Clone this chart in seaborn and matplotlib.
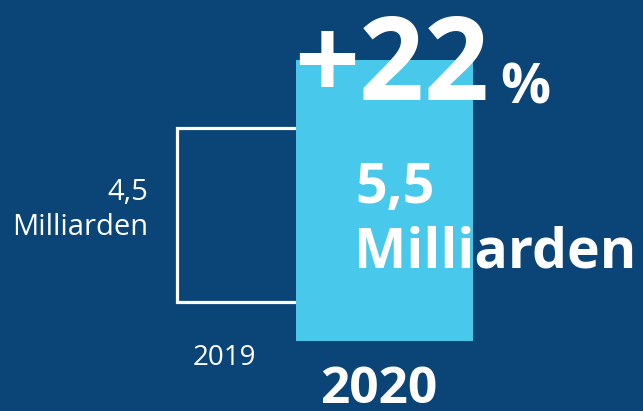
import matplotlib
matplotlib.use("Agg")
import matplotlib.pyplot as plt
import seaborn as sns

# Daten
jahre = ["2019", "2020"]
werte = [4.5, 5.5]
wert_texte = ["4,5", "5,5"]
einheit = "Milliarden"
wachstum = "+22"

# Farben
hintergrund = "#0B4577"
hellblau = "#48C8EA"
weiss = "white"

W, H = 643, 411
sns.set_theme(style="white")
plt.rcParams["font.family"] = ["Open Sans", "DejaVu Sans"]

fig = plt.figure(figsize=(W / 100, H / 100), dpi=100, facecolor=hintergrund)


def rect(x0, y0, x1, y1):
    # Pixelkoordinaten (oben links) -> Figurenanteile
    return [x0 / W, 1 - y1 / H, (x1 - x0) / W, (y1 - y0) / H]


def pos(x, y):
    return x / W, 1 - y / H


# 2019: nur Umriss
ax1 = fig.add_axes(rect(176.5, 128.5, 298, 302))
sns.barplot(x=[jahre[0]], y=[werte[0]], ax=ax1, width=1.0,
            facecolor="none", edgecolor=weiss, linewidth=2.3)
ax1.set_ylim(0, werte[0])
ax1.set_xlim(-0.5, 0.5)

# 2020: gefüllter Balken
ax2 = fig.add_axes(rect(296, 60, 472.5, 341))
sns.barplot(x=[jahre[1]], y=[werte[1]], ax=ax2, width=1.0,
            color=hellblau, saturation=1, edgecolor="none", linewidth=0)
ax2.set_ylim(0, werte[1])
ax2.set_xlim(-0.5, 0.5)

for ax in (ax1, ax2):
    ax.axis("off")
    for p in ax.patches:
        p.set_clip_on(False)

# Beschriftungen
fig.text(*pos(294, 100), wachstum, color=weiss, fontsize=82, fontweight="bold",
         ha="left", va="baseline")
fig.text(*pos(500, 103), "%", color=weiss, fontsize=40, fontweight="bold",
         ha="left", va="baseline")

fig.text(*pos(355, 203), wert_texte[1], color=weiss, fontsize=40, fontweight="bold",
         ha="left", va="baseline")
fig.text(*pos(354, 268), einheit, color=weiss, fontsize=40, fontweight="bold",
         ha="left", va="baseline")

fig.text(*pos(148, 200), wert_texte[0], color=weiss, fontsize=21,
         ha="right", va="baseline")
fig.text(*pos(148, 235), einheit, color=weiss, fontsize=21,
         ha="right", va="baseline")

fig.text(*pos(224, 365), jahre[0], color=weiss, fontsize=20,
         ha="center", va="baseline")
fig.text(*pos(379, 403), jahre[1], color=weiss, fontsize=37, fontweight="bold",
         ha="center", va="baseline")

fig.savefig("out.png", dpi=100, facecolor=hintergrund)
